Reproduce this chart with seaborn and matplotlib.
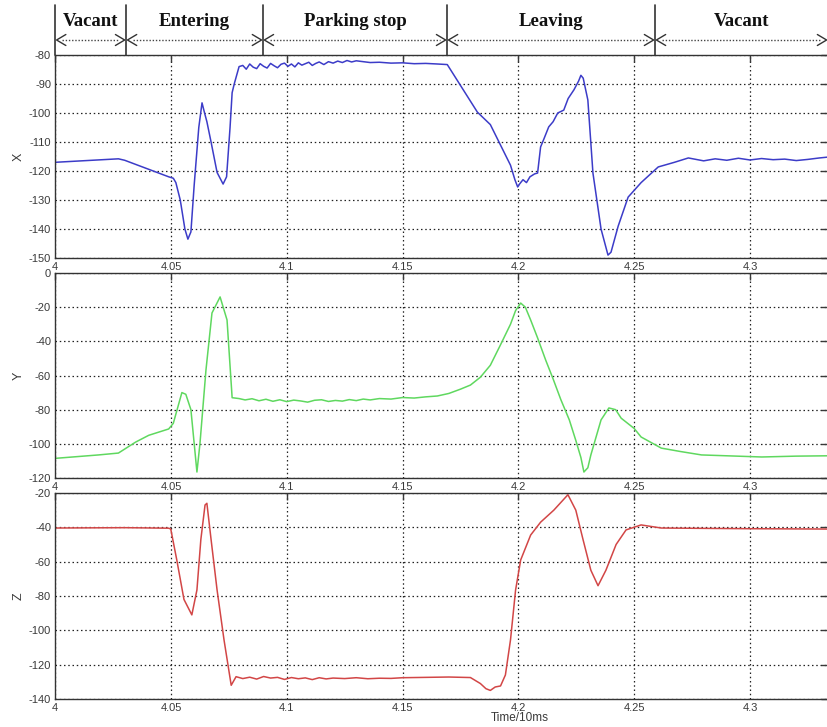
import matplotlib
matplotlib.use("Agg")
import matplotlib.pyplot as plt
import pandas as pd
import seaborn as sns

sns.set_style("white")
plt.rcParams['font.family'] = ['Liberation Sans', 'DejaVu Sans']

# ---------------- data ----------------
phase_labels = ["Vacant", "Entering", "Parking stop", "Leaving", "Vacant"]
phase_bounds = [4.0, 4.0306, 4.0897, 4.1692, 4.2590, 4.3337]

x_ticks = [4.0, 4.05, 4.1, 4.15, 4.2, 4.25, 4.3]
x_ticklabels = ["4", "4.05", "4.1", "4.15", "4.2", "4.25", "4.3"]

x_time = [4.0000, 4.0273, 4.0300, 4.0490, 4.0510, 4.0521, 4.0540, 4.0560, 4.0573, 4.0586,
          4.0600, 4.0620, 4.0634, 4.0645, 4.0655, 4.0673, 4.0699, 4.0725, 4.0740, 4.0755,
          4.0764, 4.0773, 4.0794, 4.0810, 4.0825, 4.0840, 4.0855, 4.0870, 4.0885, 4.0900,
          4.0915, 4.0930, 4.0945, 4.0960, 4.0975, 4.0990, 4.1005, 4.1020, 4.1035, 4.1050,
          4.1065, 4.1080, 4.1095, 4.1110, 4.1125, 4.1140, 4.1160, 4.1180, 4.1200, 4.1220,
          4.1240, 4.1260, 4.1280, 4.1300, 4.1330, 4.1360, 4.1400, 4.1450, 4.1500, 4.1550,
          4.1600, 4.1650, 4.1693, 4.1823, 4.1879, 4.1966, 4.1985, 4.1997, 4.2005, 4.2020,
          4.2035, 4.2050, 4.2070, 4.2083, 4.2096, 4.2110, 4.2131, 4.2150, 4.2170, 4.2196,
          4.2215, 4.2240, 4.2260, 4.2270, 4.2280, 4.2300, 4.2322, 4.2357, 4.2387, 4.2400,
          4.2431, 4.2474, 4.2530, 4.2604, 4.2674, 4.2734, 4.2800, 4.2850, 4.2900, 4.2950,
          4.3000, 4.3050, 4.3100, 4.3150, 4.3200, 4.3250, 4.3300, 4.3337]
x_vals = [-117.0, -115.8, -116.3, -122.0, -122.5, -124.0, -130.0, -140.0, -143.5, -141.0,
          -125.0, -105.0, -96.5, -100.0, -103.0, -110.0, -120.5, -124.5, -122.0, -105.0,
          -93.0, -90.0, -84.0, -83.6, -84.9, -83.1, -84.2, -84.7, -83.0, -83.9,
          -84.5, -82.9, -83.7, -84.4, -83.2, -82.8, -83.9, -83.1, -84.1, -82.7,
          -83.5, -83.0, -82.5, -83.6, -82.9, -82.4, -83.3, -82.3, -82.8, -82.1,
          -82.6, -81.9, -82.4, -82.0, -82.3, -82.6, -82.5, -82.8, -82.7, -83.0,
          -82.9, -83.1, -83.3, -99.7, -104.0, -118.0, -123.0, -125.5, -124.5, -123.0,
          -124.0, -122.0, -121.0, -120.7, -111.7, -109.0, -104.8, -103.0, -100.0, -99.0,
          -95.0, -92.0, -89.0, -87.0, -88.0, -95.5, -120.7, -140.0, -149.0, -148.0,
          -139.0, -129.0, -124.0, -118.6, -117.0, -115.5, -116.5, -115.8, -116.3, -115.6,
          -116.2, -115.7, -116.1, -115.9, -116.4, -116.0, -115.5, -115.2]

y_time = [4.0000, 4.0187, 4.0273, 4.0347, 4.0404, 4.0490, 4.0510, 4.0547, 4.0564, 4.0586,
          4.0612, 4.0625, 4.0651, 4.0677, 4.0712, 4.0742, 4.0764, 4.0794, 4.0820, 4.0850,
          4.0880, 4.0910, 4.0940, 4.0970, 4.1000, 4.1030, 4.1060, 4.1090, 4.1120, 4.1150,
          4.1180, 4.1210, 4.1240, 4.1270, 4.1300, 4.1330, 4.1360, 4.1400, 4.1450, 4.1500,
          4.1550, 4.1600, 4.1650, 4.1700, 4.1750, 4.1793, 4.1836, 4.1879, 4.1923, 4.1966,
          4.1988, 4.2010, 4.2030, 4.2053, 4.2083, 4.2118, 4.2150, 4.2183, 4.2220, 4.2248,
          4.2270, 4.2283, 4.2300, 4.2313, 4.2357, 4.2391, 4.2420, 4.2444, 4.2500, 4.2530,
          4.2617, 4.2700, 4.2791, 4.2900, 4.3051, 4.3200, 4.3337]
y_vals = [-108.5, -106.5, -105.4, -99.0, -95.0, -91.3, -88.0, -70.0, -71.0, -80.0,
          -116.5, -100.0, -56.8, -23.4, -14.0, -27.5, -73.0, -73.5, -74.3, -73.6,
          -74.8, -73.9, -75.1, -74.2, -75.3, -74.4, -74.9, -75.6, -74.5, -74.2,
          -75.2, -74.6, -75.0, -74.1, -74.7, -73.8, -74.3, -73.5, -73.8, -72.9,
          -73.2, -72.5, -72.0, -70.5, -68.0, -65.6, -61.0, -54.0, -42.0, -30.0,
          -22.0, -17.6, -20.0, -27.5, -38.0, -51.0, -62.0, -74.0, -86.0, -98.0,
          -108.0, -116.5, -114.0, -106.5, -86.0, -79.0, -80.0, -85.0, -91.0, -96.0,
          -102.5, -104.5, -106.5, -107.0, -107.7, -107.2, -107.0]

z_time = [4.0000, 4.0300, 4.0490, 4.0499, 4.0525, 4.0556, 4.0590, 4.0612, 4.0629, 4.0647,
          4.0655, 4.0673, 4.0699, 4.0729, 4.0760, 4.0781, 4.0810, 4.0840, 4.0870, 4.0900,
          4.0930, 4.0960, 4.0990, 4.1020, 4.1050, 4.1080, 4.1110, 4.1140, 4.1170, 4.1200,
          4.1250, 4.1300, 4.1350, 4.1400, 4.1450, 4.1500, 4.1600, 4.1700, 4.1793, 4.1836,
          4.1860, 4.1879, 4.1900, 4.1923, 4.1944, 4.1966, 4.1988, 4.2010, 4.2053, 4.2096,
          4.2153, 4.2214, 4.2248, 4.2279, 4.2313, 4.2344, 4.2378, 4.2422, 4.2465, 4.2530,
          4.2617, 4.2800, 4.3000, 4.3337]
z_vals = [-40.4, -40.2, -40.5, -41.0, -59.0, -82.0, -91.0, -76.5, -47.0, -27.0,
          -26.0, -47.0, -76.5, -105.6, -132.0, -127.0, -128.1, -127.3, -128.4, -126.9,
          -127.8, -127.4, -128.6, -127.5, -128.2, -127.7, -128.7, -127.6, -128.3, -127.8,
          -128.1, -127.6, -128.2, -127.9, -128.0, -127.6, -127.4, -127.2, -127.5, -131.0,
          -134.0, -135.0, -133.0, -132.4, -126.0, -105.6, -76.5, -59.0, -44.5, -37.0,
          -30.0, -21.0, -30.0, -47.0, -65.0, -74.0, -65.0, -50.0, -41.5, -38.6,
          -40.4, -40.6, -40.8, -41.0]

panels = [
    ("X", x_time, x_vals, "#3c3cc8", (-150, -80), list(range(-150, -79, 10))),
    ("Y", y_time, y_vals, "#5fd85f", (-120, 0), list(range(-120, 1, 20))),
    ("Z", z_time, z_vals, "#d24646", (-140, -20), list(range(-140, -19, 20))),
]

# ---------------- layout (pixels) ----------------
W, H = 827, 727
fig = plt.figure(figsize=(W / 100, H / 100), dpi=100)
fig.patch.set_facecolor("white")


def ax_at(l, t, r, b):
    return fig.add_axes([l / W, 1 - b / H, (r - l) / W, (b - t) / H])


LEFT, RIGHT = 55.2, 828
panel_boxes = [(55, 258), (273, 478), (493, 699)]
xlim = (4.0, 4.3337)
tick_color = "#3a3a3a"

for (name, t, v, color, ylim, yticks), (top, bot) in zip(panels, panel_boxes):
    ax = ax_at(LEFT, top, RIGHT, bot)
    df = pd.DataFrame({"t": t, "v": v})
    sns.lineplot(data=df, x="t", y="v", ax=ax, color=color, linewidth=1.1,
                 estimator=None, sort=False)
    ax.set_xlim(*xlim)
    ax.set_ylim(*ylim)
    ax.set_xticks(x_ticks)
    ax.set_xticklabels(x_ticklabels)
    ax.set_yticks(yticks)
    ax.set_yticklabels([str(y) for y in yticks])
    ax.grid(True, color="#222222", linestyle=(0, (1.2, 2.2)), linewidth=0.9)
    ax.tick_params(direction="in", top=True, right=True, length=5, width=1,
                   labelsize=8, colors=tick_color, pad=3)
    for s in ax.spines.values():
        s.set_color("#333333")
        s.set_linewidth(1.0)
    ax.set_xlabel("")
    ax.set_ylabel(name, fontsize=9, color=tick_color, labelpad=3)

fig.text(520 / W, 1 - 718 / H, "Time/10ms", ha="center", va="center",
         fontsize=8.5, color=tick_color)

# ---------------- header with phases ----------------
hax = ax_at(LEFT, 5, RIGHT, 55)
hax.set_xlim(*xlim)
hax.set_ylim(0, 1)
hax.axis("off")
for b in phase_bounds[:-1]:
    hax.plot([b, b], [0, 1], color="#333333", linewidth=1.2, clip_on=False)

arrow_y = 0.30
hx = 0.0040
hy = 0.11
for i, lab in enumerate(phase_labels):
    a, b = phase_bounds[i], phase_bounds[i + 1]
    hax.text((a + b) / 2, 0.66, lab, ha="center", va="center",
             family=["Liberation Serif", "DejaVu Serif"], fontweight="bold",
             fontsize=13.5, color="#111111")
    a0 = a + 0.0006
    b0 = b - 0.0006
    hax.plot([a0 + hx * 0.6, b0 - hx * 0.6], [arrow_y, arrow_y], color="#444444",
             linewidth=1.0, linestyle=(0, (1, 1.3)), clip_on=False)
    hax.plot([a0 + hx, a0, a0 + hx], [arrow_y + hy, arrow_y, arrow_y - hy],
             color="#333333", linewidth=1.0, clip_on=False)
    hax.plot([b0 - hx, b0, b0 - hx], [arrow_y + hy, arrow_y, arrow_y - hy],
             color="#333333", linewidth=1.0, clip_on=False)

fig.savefig("out.png", dpi=100, facecolor="white")
